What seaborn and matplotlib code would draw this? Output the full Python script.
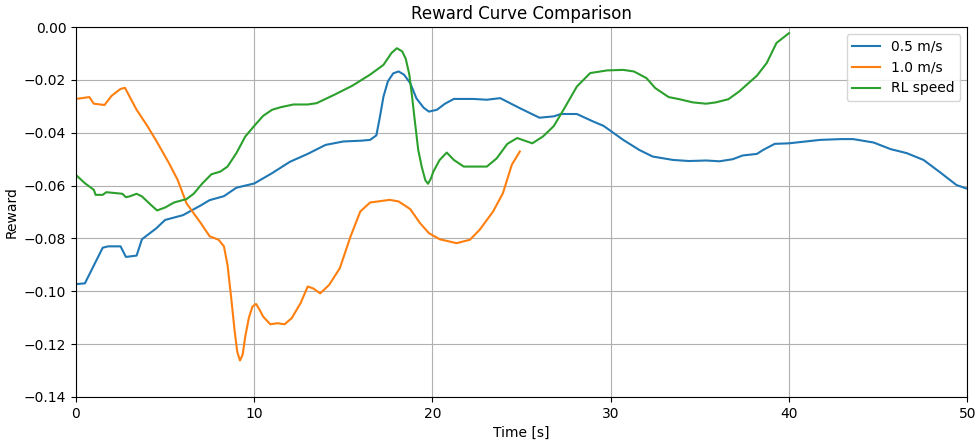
import numpy as np
import pandas as pd
import matplotlib
matplotlib.use("Agg")
import matplotlib.pyplot as plt
import seaborn as sns

# 0.5 m/s
t_slow = [0, 0.5, 1.5, 1.8, 2.5, 2.8, 3.4, 3.7, 4.5, 5, 6, 7, 7.5, 8.3, 9, 10, 11, 12, 13, 14, 15, 16,
          16.5, 16.85, 17.05, 17.25, 17.5, 17.8, 18.1, 18.4, 18.75, 19.1, 19.5, 19.8, 20.25, 20.7, 21.2,
          22.3, 23.05, 23.8, 24.9, 26.0,
          26.8, 27.2, 28.1, 29.0, 29.6, 30.7, 31.6, 32.35, 33.5, 34.4, 35.35, 36.1, 36.85, 37.4, 38.2,
          38.55, 39.2, 40, 40.8, 41.75, 42.9, 43.6, 44.75, 45.7, 46.6, 47.55, 48.5, 49.4, 50]
r_slow = [-0.0973, -0.097, -0.0835, -0.083, -0.083, -0.087, -0.0865, -0.0803, -0.0762, -0.073, -0.0712,
          -0.0675, -0.0655, -0.064, -0.0608, -0.0592, -0.0553, -0.051, -0.048, -0.0446, -0.0433, -0.043,
          -0.0427, -0.041, -0.034, -0.0263, -0.0205, -0.0175, -0.0168, -0.018, -0.0212, -0.027, -0.0305,
          -0.032, -0.0313, -0.029, -0.0272,
          -0.0272, -0.0275, -0.0269, -0.0307, -0.0343, -0.0338, -0.0329, -0.0329, -0.0357, -0.0374,
          -0.0427, -0.0465, -0.049, -0.0503, -0.0507, -0.0505, -0.0508, -0.05, -0.0486, -0.048,
          -0.0465, -0.0442, -0.044, -0.0434, -0.0427, -0.0424, -0.0424, -0.0437, -0.0462, -0.0477,
          -0.0503, -0.0551, -0.0598, -0.0612]

# 1.0 m/s
t_fast = [0, 0.75, 1.0, 1.6, 2.0, 2.5, 2.75, 3.1, 3.4, 4, 4.5, 5.2, 5.7, 6.2, 7, 7.5, 8, 8.3, 8.5, 8.7,
          8.9, 9.05, 9.2, 9.35, 9.5, 9.7, 9.9, 10.1, 10.3, 10.5, 10.9, 11.3, 11.7, 12.1, 12.6, 13, 13.3,
          13.7, 14.2, 14.8, 15.4, 15.95, 16.5, 17.6, 18.1, 18.75, 19.3, 19.8, 20.4, 21.35, 22.1, 22.65,
          23.4, 23.95, 24.45, 24.9]
r_fast = [-0.0272, -0.0265, -0.029, -0.0295, -0.026, -0.0234, -0.023, -0.0275, -0.0313, -0.0374, -0.043,
          -0.0513, -0.0578, -0.0667, -0.0742, -0.0792, -0.0805, -0.083, -0.09, -0.102, -0.115, -0.123,
          -0.1262, -0.124, -0.117, -0.11, -0.1058, -0.1048, -0.107, -0.1096, -0.1125, -0.1121, -0.1125,
          -0.1102, -0.1045, -0.0982, -0.0989, -0.1008, -0.0976, -0.0913, -0.0793, -0.0698, -0.0664,
          -0.0654, -0.066, -0.0689, -0.0742, -0.078, -0.0803, -0.0818, -0.0805, -0.0767, -0.0698,
          -0.0629, -0.0521, -0.0471]

# RL speed
t_rl = [0, 0.5, 1, 1.1, 1.5, 1.7, 2.6, 2.8, 3, 3.4, 3.7, 4.2, 4.55, 5, 5.5, 6.2, 6.6, 7.1, 7.6, 8.1,
        8.5, 9, 9.5, 10, 10.5, 11, 11.5, 12.2, 13, 13.5, 14.5, 15.5, 16.5, 17.25, 17.7, 18.0, 18.3,
        18.5, 18.7, 18.85, 19.0, 19.2, 19.4, 19.6, 19.75, 19.9, 20.05, 20.4, 20.8, 21.2, 21.75, 22.3,
        23.05, 23.6, 24.2, 24.75,
        25.6, 26.2, 26.8, 27.35, 28.1, 28.85, 29.8, 30.7, 31.3, 32.0, 32.5, 33.25, 33.85, 34.6, 35.35,
        35.9, 36.6, 37.2, 38.2, 38.75, 39.3, 40.0]
r_rl = [-0.056, -0.0591, -0.0616, -0.0635, -0.0635, -0.0625, -0.0631, -0.0644, -0.0641, -0.0631,
        -0.0641, -0.0673, -0.0694, -0.0683, -0.0664, -0.0651, -0.0631, -0.0591, -0.0557, -0.0547,
        -0.0528, -0.0477, -0.0414, -0.0374, -0.0336, -0.0313, -0.0303, -0.0293, -0.0293, -0.0288,
        -0.0256, -0.0222, -0.018, -0.0143, -0.0098, -0.008, -0.0092,
        -0.012, -0.018, -0.026, -0.035, -0.0465, -0.053, -0.058, -0.0593, -0.0575, -0.0547,
        -0.0503, -0.0475, -0.0503, -0.0528, -0.0528, -0.0528, -0.0497,
        -0.0442, -0.042, -0.044, -0.0414, -0.0375, -0.0313, -0.0225, -0.0174, -0.0164, -0.0162,
        -0.0168, -0.0193, -0.0231, -0.0265, -0.0273, -0.0285, -0.029, -0.0285, -0.0273, -0.0244,
        -0.0184, -0.0136, -0.006, -0.0023]

labels = ["0.5 m/s", "1.0 m/s", "RL speed"]

df = pd.concat([
    pd.DataFrame({"t": t_slow, "r": r_slow, "series": labels[0]}),
    pd.DataFrame({"t": t_fast, "r": r_fast, "series": labels[1]}),
    pd.DataFrame({"t": t_rl, "r": r_rl, "series": labels[2]}),
], ignore_index=True)

fig = plt.figure(figsize=(9.78, 4.44), dpi=100)
ax = fig.add_axes([0.0777, 0.106, 0.9113, 0.833])
sns.lineplot(data=df, x="t", y="r", hue="series", hue_order=labels,
             palette=["#1f77b4", "#ff7f0e", "#2ca02c"], linewidth=1.5, ax=ax, sort=True,
             estimator=None)
ax.set_xlim(0, 50)
ax.set_ylim(-0.14, 0.0)
ax.set_xticks([0, 10, 20, 30, 40, 50])
ax.set_yticks(np.linspace(-0.14, 0.0, 8))
ax.grid(True, color="#b0b0b0", linewidth=0.8)
ax.set_title("Reward Curve Comparison", fontsize=12)
ax.set_xlabel("Time [s]")
ax.set_ylabel("Reward")
ax.legend(loc="upper right", title=None)
fig.savefig("out.png", dpi=100)
